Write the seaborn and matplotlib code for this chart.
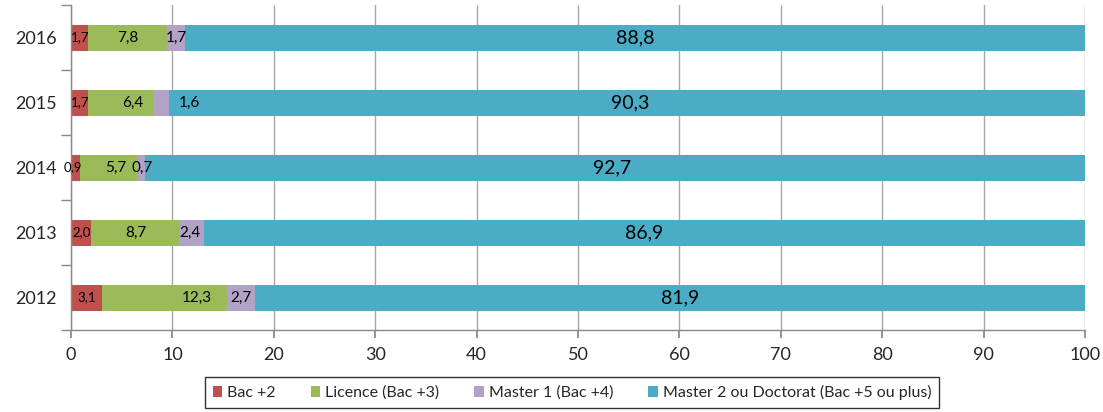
import matplotlib
matplotlib.use("Agg")
import matplotlib.pyplot as plt
import seaborn as sns
import numpy as np
import pandas as pd
from matplotlib.patches import Patch
from matplotlib.ticker import FixedLocator

years = ["2016", "2015", "2014", "2013", "2012"]
series_names = ["Bac +2", "Licence (Bac +3)", "Master 1 (Bac +4)",
                "Master 2 ou Doctorat (Bac +5 ou plus)"]
bac2 = [1.7, 1.7, 0.9, 2.0, 3.1]
licence = [7.8, 6.4, 5.7, 8.7, 12.3]
master1 = [1.7, 1.6, 0.7, 2.4, 2.7]
master2 = [88.8, 90.3, 92.7, 86.9, 81.9]
colors = ["#C0504D", "#9BBB59", "#B3A2C7", "#4BACC6"]
# manual label nudges (data units), as in the original
label_shift = [
    [0, 0, 0, 0],
    [0, 1.2, 2.8, 0.3],
    [-0.3, 0.7, 0.1, -0.3],
    [0, 0, -0.2, 0],
    [0, 3.2, 0, 1.0],
]

sns.set_theme(style="white")
plt.rcParams["font.family"] = ["Lato", "DejaVu Sans"]

series = [bac2, licence, master1, master2]
cum = np.cumsum(np.array(series), axis=0)

fig = plt.figure(figsize=(11.03, 4.12), dpi=100)
ax = fig.add_axes([71/1103, 1-330/412, (1085-71)/1103, (330-5)/412])

for k in range(3, -1, -1):
    df = pd.DataFrame({"year": years, "val": cum[k]})
    sns.barplot(data=df, x="val", y="year", order=years, color=colors[k],
                width=0.4, orient="h", ax=ax, saturation=1, edgecolor="none",
                linewidth=0)

for i, y in enumerate(years):
    for k in range(4):
        v = series[k][i]
        start = cum[k][i] - v
        x = start + v / 2 + label_shift[i][k]
        if k == 3:
            fs = 14
        elif k == 0:
            fs = 9.5
        else:
            fs = 11
        ax.text(x, i, f"{v:.1f}".replace(".", ","), ha="center", va="center",
                fontsize=fs, color="black")

ax.set_xlim(0, 100)
ax.set_ylim(4.5, -0.5)
ax.set_xticks(range(0, 101, 10))
ax.set_xlabel("")
ax.set_ylabel("")
ax.tick_params(axis="x", labelsize=13, length=6, direction="out", color="#888888",
               bottom=True, pad=6)
ax.tick_params(axis="y", which="major", length=0, labelsize=13, pad=10)
ax.yaxis.set_minor_locator(FixedLocator(np.arange(-0.5, 5, 1)))
ax.tick_params(axis="y", which="minor", length=7, direction="out", color="#888888",
               left=True)
ax.grid(axis="x", color="#A6A6A6", linewidth=1)
ax.set_axisbelow(True)
for s in ["top", "right"]:
    ax.spines[s].set_visible(False)
for s in ["left", "bottom"]:
    ax.spines[s].set_color("#888888")
    ax.spines[s].set_linewidth(1)

handles = [Patch(facecolor=c, edgecolor="none") for c in colors]
leg = fig.legend(handles, series_names, loc="lower center", ncol=4,
                 bbox_to_anchor=(572/1103, -0.01), frameon=True, fontsize=11.5,
                 handlelength=0.6, handleheight=0.6, handletextpad=0.3,
                 columnspacing=2.2, fancybox=False, borderpad=0.5)
leg.get_frame().set_edgecolor("black")
leg.get_frame().set_linewidth(1)

fig.savefig("out.png", dpi=100)
